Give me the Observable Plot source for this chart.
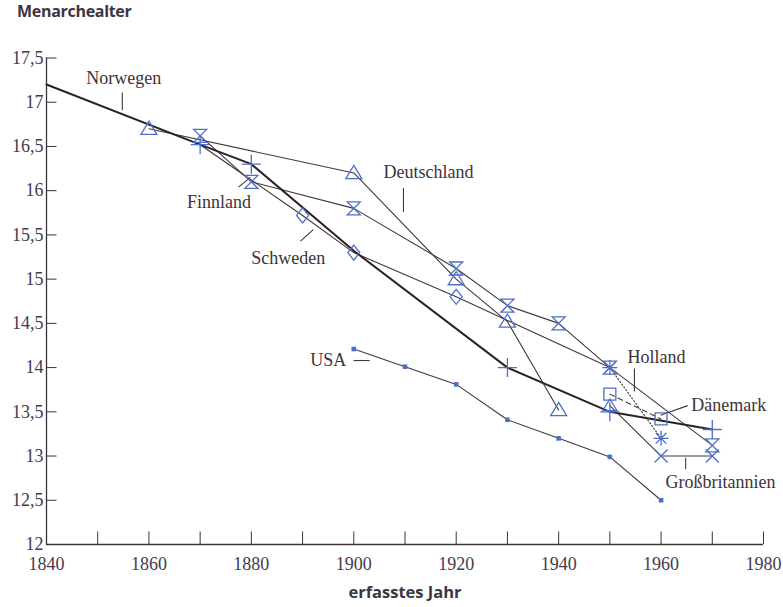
<!DOCTYPE html>
<html><head><meta charset="utf-8">
<script src="https://cdn.jsdelivr.net/npm/d3@7"></script>
<script src="https://cdn.jsdelivr.net/npm/@observablehq/plot@0.6"></script>
<style>
body{margin:0;background:#fff;width:783px;height:607px;overflow:hidden}
#title{height:30px;line-height:30px;padding-left:17px;font:700 16px "Open Sans",sans-serif;letter-spacing:-0.3px;color:#3d3445}
#caption{height:27px;line-height:34px;padding-left:27px;text-align:center;font:700 16.5px "Open Sans",sans-serif;color:#3d3445}
#chart svg{display:block}
</style></head><body>
<div id="title">Menarchealter</div>
<div id="chart"></div>
<div id="caption">erfasstes Jahr</div>
<script>
// ---- data ----
const norwegenJahr = [1840, 1870, 1880, 1900, 1930, 1950, 1970];
const norwegenAlter = [17.2, 16.52, 16.3, 15.32, 14.0, 13.5, 13.3];
const norwegenMarkiert = [1870, 1880, 1930, 1950, 1970];

const deutschlandJahr = [1860, 1900, 1920, 1930, 1940];
const deutschlandAlter = [16.7, 16.2, 15.0, 14.52, 13.52];

const finnlandJahr = [1870, 1880, 1900, 1920, 1930, 1940, 1950, 1970];
const finnlandAlter = [16.62, 16.1, 15.8, 15.12, 14.7, 14.5, 14.0, 13.12];

const schwedenJahr = [1870, 1890, 1900, 1920, 1950];
const schwedenAlter = [16.52, 15.72, 15.3, 14.8, 14.0];
const schwedenMarkiert = [1890, 1900, 1920];

const hollandJahr = [1950, 1960];
const hollandAlter = [14.0, 13.2];

const daenemarkJahr = [1950, 1960];
const daenemarkAlter = [13.7, 13.42];

const gbJahr = [1950, 1960, 1970];
const gbAlter = [13.57, 13.0, 13.0];

const usaJahr = [1900, 1910, 1920, 1930, 1940, 1950, 1960];
const usaAlter = [14.21, 14.01, 13.81, 13.41, 13.2, 12.99, 12.5];

const xTicks = [1850, 1860, 1870, 1880, 1890, 1900, 1910, 1920, 1930, 1940, 1950, 1960, 1970, 1980];
const xLabels = [1840, 1860, 1880, 1900, 1920, 1940, 1960, 1980];
const yTicks = [12, 12.5, 13, 13.5, 14, 14.5, 15, 15.5, 16, 16.5, 17, 17.5];

// annotations (label centres and pointer strokes, in data units)
const labelText = ["Norwegen", "Deutschland", "Finnland", "Schweden", "USA", "Holland", "Dänemark", "Großbritannien"];
const labelJahr = [1855.1, 1914.6, 1873.7, 1887.2, 1895.0, 1959.1, 1973.2, 1971.6];
const labelAlter = [17.27, 16.21, 15.87, 15.24, 14.08, 14.12, 13.57, 12.70];
const zeigerJahr1 = [1854.8, 1909.7, 1877.5, 1889.6, 1899.95, 1954.8, 1959.9, 1964.8];
const zeigerAlter1 = [17.11, 16.03, 16.04, 15.43, 14.08, 13.99, 13.46, 12.98];
const zeigerJahr2 = [1854.8, 1909.7, 1879.8, 1892.1, 1903.1, 1954.8, 1965.2, 1964.8];
const zeigerAlter2 = [16.91, 15.76, 16.15, 15.56, 14.08, 13.73, 13.57, 12.85];

// ---- build ----
const pts = (j, a) => j.map((x, i) => ({x, y: a[i]}));
const norwegen = pts(norwegenJahr, norwegenAlter);
const deutschland = pts(deutschlandJahr, deutschlandAlter);
const finnland = pts(finnlandJahr, finnlandAlter);
const schweden = pts(schwedenJahr, schwedenAlter);
const holland = pts(hollandJahr, hollandAlter);
const daenemark = pts(daenemarkJahr, daenemarkAlter);
const gb = pts(gbJahr, gbAlter);
const usa = pts(usaJahr, usaAlter);
const labels = labelText.map((t, i) => ({t, x: labelJahr[i], y: labelAlter[i]}));
const zeiger = labelText.map((t, i) => ({x1: zeigerJahr1[i], y1: zeigerAlter1[i], x2: zeigerJahr2[i], y2: zeigerAlter2[i]}));

const S = f => ({draw(c, size) { f(c, Math.sqrt(size / Math.PI)); }});
const hourglass = S((c, r) => { c.moveTo(-r, -r); c.lineTo(r, -r); c.lineTo(-r, r); c.lineTo(r, r); c.closePath(); });
const tri = S((c, r) => { c.moveTo(0, -r * 0.95); c.lineTo(r, r * 0.7); c.lineTo(-r, r * 0.7); c.closePath(); });
const diamond = S((c, r) => { c.moveTo(0, -r); c.lineTo(r * 0.8, 0); c.lineTo(0, r); c.lineTo(-r * 0.8, 0); c.closePath(); });
const square = S((c, r) => { c.rect(-r, -r, 2 * r, 2 * r); });
const plus = S((c, r) => { c.moveTo(-r, 0); c.lineTo(r, 0); c.moveTo(0, -r); c.lineTo(0, r); });
const times = S((c, r) => { c.moveTo(-r, -r); c.lineTo(r, r); c.moveTo(r, -r); c.lineTo(-r, r); });
const aster = S((c, r) => { for (let i = 0; i < 4; i++) { const t = i * Math.PI / 4; c.moveTo(-r * Math.cos(t), -r * Math.sin(t)); c.lineTo(r * Math.cos(t), r * Math.sin(t)); } });

const LINE = "#43363a", BLUE = "#4f6ec6", AX = "#3a3338", SERIF = "Liberation Serif";
const ln = (d, o = {}) => Plot.line(d, {x: "x", y: "y", stroke: LINE, strokeWidth: 1.1, ...o});
const dot = (d, sym, r, o = {}) => Plot.dot(d, {x: "x", y: "y", symbol: sym, r, stroke: BLUE, fill: "none", strokeWidth: 1.3, ...o});
const txt = {fontFamily: SERIF, fontVariant: "normal", fontSize: 18, fill: "#463a4e"};

const chart = Plot.plot({
  width: 783, height: 550,
  marginLeft: 46, marginRight: 20, marginTop: 27.5, marginBottom: 36,
  style: {background: "#fff"},
  x: {domain: [1840, 1980], axis: null},
  y: {domain: [12, 17.5], axis: null},
  marks: [
    Plot.ruleY([12], {stroke: AX, strokeWidth: 1.3}),
    Plot.ruleX([1840], {stroke: AX, strokeWidth: 1.3}),
    Plot.axisX({ticks: xTicks, tickSize: 12.5, dy: -12.5, tickFormat: () => "", label: null, stroke: AX}),
    Plot.axisY({ticks: yTicks, tickSize: 10.5, dx: 10.5, tickFormat: () => "", label: null, stroke: AX}),
    Plot.text(xLabels, {x: d => d, frameAnchor: "bottom", dy: 25.5, text: d => String(d), ...txt}),
    Plot.text(yTicks, {y: d => d, frameAnchor: "left", dx: -3, textAnchor: "end", text: d => String(d).replace(".", ","), ...txt}),
    ln(usa),
    ln(schweden),
    ln(finnland),
    ln(deutschland),
    ln(gb),
    ln(holland, {strokeDasharray: "1.2,2.2"}),
    ln(daenemark, {strokeDasharray: "5,4"}),
    ln(norwegen, {stroke: "#2c2226", strokeWidth: 2}),
    Plot.link(zeiger, {x1: "x1", y1: "y1", x2: "x2", y2: "y2", stroke: LINE, strokeWidth: 1.1}),
    Plot.text(labels, {x: "x", y: "y", text: "t", fontFamily: SERIF, fontSize: 18, fill: "#3e3238"}),
    dot(usa, square, 2.3, {fill: BLUE, stroke: "none"}),
    dot(schweden.filter(d => schwedenMarkiert.includes(d.x)), diamond, 7.5),
    dot(deutschland, tri, 8),
    dot(finnland, hourglass, 6.5),
    dot(gb.filter(d => d.x !== 1950), times, 6.5),
    dot(gb.filter(d => d.x === 1950), tri, 7),
    dot(holland, aster, 7.5),
    dot(daenemark, square, 6),
    dot(norwegen.filter(d => norwegenMarkiert.includes(d.x)), plus, 9.5)
  ]
});
document.getElementById("chart").appendChild(chart);
</script>
</body></html>
